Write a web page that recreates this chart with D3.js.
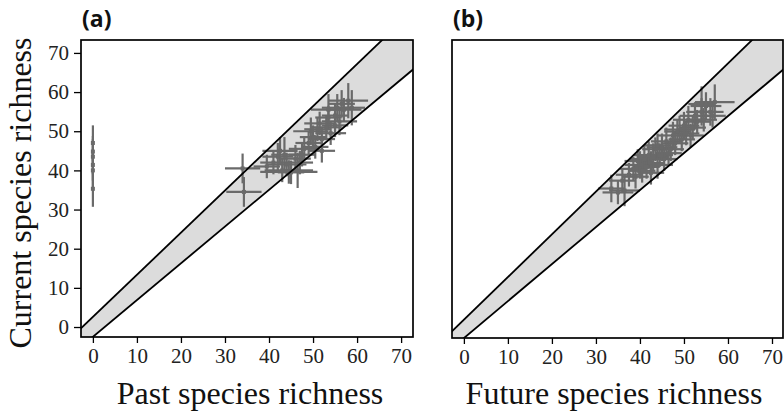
<!DOCTYPE html>
<html>
<head>
<meta charset="utf-8">
<script src="https://cdn.jsdelivr.net/npm/d3@7"></script>
<style>
  body { margin: 0; background: #fff; }
  svg { display: block; }
</style>
</head>
<body>
<div id="chart"></div>
<script>
// tick values shared by both panels
let tickValues = [0, 10, 20, 30, 40, 50, 60, 70];

// panel (a): past vs current  [x, y, xErr, yErr]
let pastX    = [0, 0, 0, 0, 0, 0, 34.0, 34.3, 41, 42, 43, 43.5, 44, 45, 46.5, 47, 47.5, 48, 49, 50, 50.5, 51, 51.5, 52, 53, 53.5, 54, 55, 55.5, 56.5, 57, 58, 55, 52, 44.5, 39.5, 58.8, 42.5, 46, 49.5, 53.5, 56];
let pastY    = [47, 44.8, 43.5, 41.4, 40, 35.3, 40.5, 34.5, 42, 43.5, 40, 44, 41.5, 39.5, 40, 42, 44, 45.5, 47, 48.5, 46, 50.5, 52, 48, 51, 53.5, 49.5, 54, 56, 57, 55.5, 57.8, 51.5, 45, 39.6, 41, 56, 45, 43, 50, 55.5, 52.5];
let pastXErr = [0, 0, 0, 0, 0, 0, 4.0, 4.0, 3, 3.5, 4, 3, 4.5, 3, 3.5, 3, 3, 3.5, 3, 3, 3, 3, 3.5, 3, 3.5, 3, 3.5, 3, 3.5, 3, 4, 4.5, 3, 3, 6.5, 3, 3, 4, 3.5, 4, 4, 4];
let pastYErr = [4.5, 4, 4.5, 4, 4.5, 4.6, 3.8, 3.8, 3, 3.5, 3, 4.5, 3, 3, 4.5, 3, 3, 3, 3, 3, 3, 3, 3, 3, 3, 3, 3, 3, 3.5, 3.5, 3, 4.5, 3, 3, 3, 3, 4.5, 3.5, 3.5, 3.5, 4, 3.5];

// panel (b): future vs current
let futureX    = [33.5, 35, 36, 37.5, 38.5, 39, 40, 40.5, 41, 41.5, 42, 42.5, 43, 43.5, 44, 44.5, 45, 45.5, 46, 47, 47.5, 48, 49, 49.5, 50, 50.5, 51, 52, 52.5, 53, 54, 54.5, 55, 56, 57, 56.5, 39.5, 42.5, 36.5, 44, 46.5, 48.5, 51.5, 54];
let futureY    = [35.5, 34.5, 37.5, 39, 40.5, 38.5, 41.5, 40, 43, 41, 44, 42, 43.5, 45.5, 41.5, 44, 46, 43, 47.5, 45.5, 49, 47, 50.5, 48, 51.5, 49.5, 53, 51, 54, 52.5, 55, 53, 56.5, 55, 57.5, 54, 42.5, 39.5, 35, 46.5, 44.5, 50, 49, 57];
let futureXErr = [3, 3.5, 3, 3, 3, 3, 3.5, 3, 3.5, 3, 3.5, 3, 3.5, 3, 3.5, 3, 3.5, 3, 3.5, 3, 3.5, 3, 3.5, 3, 3.5, 3, 3.5, 3, 3.5, 3, 3.5, 3, 3.5, 3, 4.5, 3, 3, 3, 3.5, 3, 3, 3, 3, 3];
let futureYErr = [3.5, 3, 3, 3, 3, 3, 3.5, 3, 3.5, 3, 3.5, 3, 3.5, 3, 3.5, 3, 3.5, 3, 3.5, 3, 3.5, 3, 3.5, 3, 3.5, 3, 3.5, 3, 3.5, 3, 3.5, 3, 3.5, 3.5, 4.5, 3, 3, 3, 4, 3, 3, 3, 3, 4.5];

// band edges, as two far end points each (clipped to the plot box)
let pastUpper   = [[-10, -8.2], [80, 88.7]];
let pastLower   = [[-10, -11.9], [90, 82.0]];
let futureUpper = [[-10, -8.8], [80, 89.1]];
let futureLower = [[-10, -12.0], [90, 82.2]];

let svg = d3.select("#chart").append("svg")
    .attr("width", 784)
    .attr("height", 417);

let serif = "Liberation Serif, Times New Roman, serif";

let panels = [
    {id: "a", label: "(a)", title: "Past species richness", titleX: 250,
     left: 81, right: 413, top: 40, bottom: 337, xMax: 72.7, showY: true,
     xs: pastX, ys: pastY, xe: pastXErr, ye: pastYErr, upper: pastUpper, lower: pastLower},
    {id: "b", label: "(b)", title: "Future species richness", titleX: 614,
     left: 452, right: 783, top: 40, bottom: 338, xMax: 72.5, showY: false,
     xs: futureX, ys: futureY, xe: futureXErr, ye: futureYErr, upper: futureUpper, lower: futureLower}
];

panels.forEach(function(p){
    let x = d3.scaleLinear().domain([-2.7, p.xMax]).range([p.left, p.right]);
    let y = d3.scaleLinear().domain([-2.55, 73.3]).range([p.bottom, p.top]);

    svg.append("clipPath").attr("id", "clip-" + p.id)
        .append("rect")
        .attr("x", p.left).attr("y", p.top)
        .attr("width", p.right - p.left).attr("height", p.bottom - p.top);

    let g = svg.append("g").attr("clip-path", "url(#clip-" + p.id + ")");

    // grey band between the two lines
    let poly = [p.upper[0], p.upper[1], p.lower[1], p.lower[0]];
    g.append("path")
        .attr("d", "M" + poly.map(d => x(d[0]) + "," + y(d[1])).join("L") + "Z")
        .attr("fill", "#dcdcdc");

    // error bars
    let pts = p.xs.map((v, i) => ({x: v, y: p.ys[i], xe: p.xe[i], ye: p.ye[i]}));
    let bars = g.append("g").attr("stroke", "#6a6a6a").attr("stroke-width", 2.2);
    bars.selectAll(".h").data(pts.filter(d => d.xe > 0)).join("line")
        .attr("x1", d => x(d.x - d.xe)).attr("x2", d => x(d.x + d.xe))
        .attr("y1", d => y(d.y)).attr("y2", d => y(d.y));
    bars.selectAll(".v").data(pts).join("line")
        .attr("x1", d => x(d.x)).attr("x2", d => x(d.x))
        .attr("y1", d => y(d.y - d.ye)).attr("y2", d => y(d.y + d.ye));
    g.append("g").selectAll("rect").data(pts).join("rect")
        .attr("x", d => x(d.x) - 2).attr("y", d => y(d.y) - 2)
        .attr("width", 4).attr("height", 4)
        .attr("fill", "#6a6a6a");

    // band edge lines
    [p.upper, p.lower].forEach(function(l){
        g.append("line")
            .attr("x1", x(l[0][0])).attr("y1", y(l[0][1]))
            .attr("x2", x(l[1][0])).attr("y2", y(l[1][1]))
            .attr("stroke", "#000").attr("stroke-width", 1.8);
    });

    // box
    svg.append("rect")
        .attr("x", p.left).attr("y", p.top)
        .attr("width", p.right - p.left).attr("height", p.bottom - p.top)
        .attr("fill", "none").attr("stroke", "#000").attr("stroke-width", 1.7);

    // x axis
    let xa = svg.append("g")
        .attr("transform", "translate(0," + p.bottom + ")")
        .call(d3.axisBottom(x).tickValues(tickValues).tickSize(6).tickPadding(5));
    xa.select(".domain").remove();
    xa.selectAll("line").attr("stroke", "#000").attr("stroke-width", 1.3);
    xa.selectAll("text").attr("font-family", serif)
        .attr("font-size", 21).attr("fill", "#222");

    if (p.showY) {
        let ya = svg.append("g")
            .attr("transform", "translate(" + p.left + ",0)")
            .call(d3.axisLeft(y).tickValues(tickValues).tickSize(7).tickPadding(5));
        ya.select(".domain").remove();
        ya.selectAll("line").attr("stroke", "#000").attr("stroke-width", 1.3);
        ya.selectAll("text").attr("font-family", serif)
            .attr("font-size", 21).attr("fill", "#222");

        svg.append("text")
            .attr("transform", "translate(31,193) rotate(-90)")
            .attr("text-anchor", "middle")
            .attr("font-family", serif)
            .attr("font-size", 32).attr("fill", "#111")
            .text("Current species richness");
    }

    svg.append("text")
        .attr("x", p.titleX).attr("y", 404)
        .attr("text-anchor", "middle")
        .attr("font-family", serif)
        .attr("font-size", 32).attr("fill", "#111")
        .text(p.title);

    svg.append("text")
        .attr("x", p.left + 1).attr("y", 27)
        .attr("font-family", "Open Sans, Liberation Sans, Arial, sans-serif")
        .attr("font-weight", "bold")
        .attr("font-size", 23).attr("fill", "#111")
        .text(p.label);
});
</script>
</body>
</html>
